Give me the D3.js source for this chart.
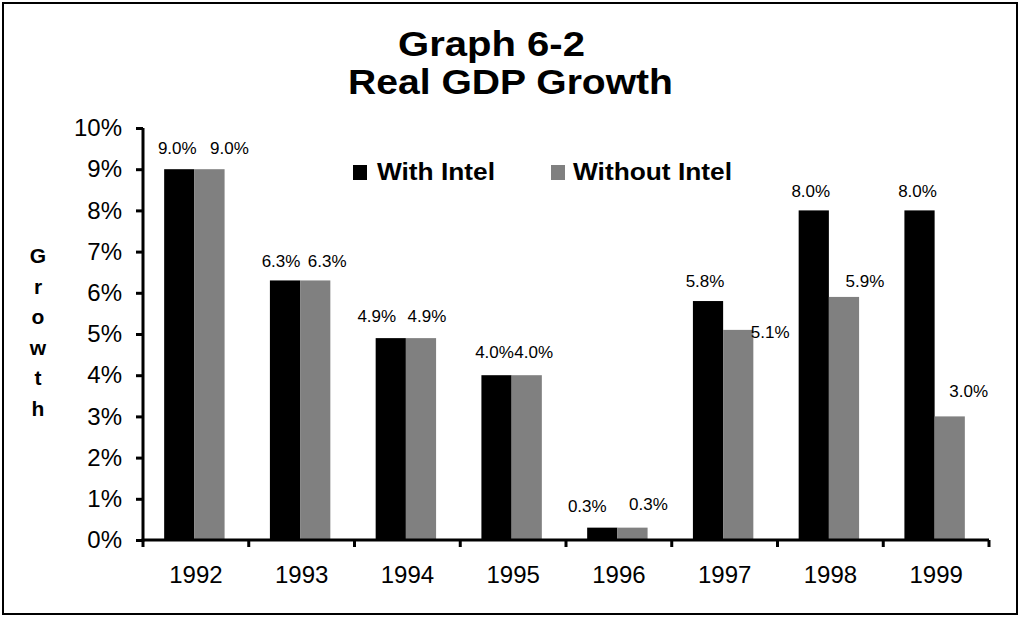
<!DOCTYPE html>
<html>
<head>
<meta charset="utf-8">
<script src="https://cdn.jsdelivr.net/npm/d3@7"></script>
<style>
  body { margin: 0; background: #fff; }
  text { font-family: "Liberation Sans", Arial, sans-serif; fill: #000; }
</style>
</head>
<body>
<svg id="chart" width="1020" height="618"></svg>
<script>
// ---- data ----
const years = ["1992", "1993", "1994", "1995", "1996", "1997", "1998", "1999"];
const withIntel = [9.0, 6.3, 4.9, 4.0, 0.3, 5.8, 8.0, 8.0];
const withoutIntel = [9.0, 6.3, 4.9, 4.0, 0.3, 5.1, 5.9, 3.0];
const seriesNames = ["With Intel", "Without Intel"];
const yTicks = [0, 1, 2, 3, 4, 5, 6, 7, 8, 9, 10];
const titleLines = ["Graph 6-2", "Real GDP Growth"];
const yAxisLabel = "Growth";

// ---- layout (label nudges as placed in the original) ----
const nudgeDxWith = [-2, -4, -14, -2, -15, -3, -3, -2];
const nudgeDyWith = [-1, 1, -2, -3, -2, 0, 1, 1];
const nudgeDxWithout = [20, 12, 6, 7, 16, 32, 21, 19];
const nudgeDyWithout = [-1, 1, -2, -3, -4, 22, 4, -5];

const colors = ["#000000", "#808080"];
const svg = d3.select("#chart");
const W = 1020, H = 618;
const plot = { left: 143, right: 989, top: 128, bottom: 540 };

svg.append("rect").attr("width", W).attr("height", H).attr("fill", "#fff");
svg.append("rect").attr("x", 3).attr("y", 3).attr("width", 1014).attr("height", 611)
  .attr("fill", "none").attr("stroke", "#000").attr("stroke-width", 2);

const x = d3.scaleBand().domain(years).range([plot.left, plot.right]).paddingInner(0).paddingOuter(0);
const bw = x.bandwidth() / 3.5;
const xs = d3.scaleBand().domain([0, 1]).range([0, 2 * bw]);
const y = d3.scaleLinear().domain([0, 10]).range([plot.bottom, plot.top]);

const series = [withIntel, withoutIntel];
const nudges = [[nudgeDxWith, nudgeDyWith], [nudgeDxWithout, nudgeDyWithout]];
const groupOffset = (x.bandwidth() - 2 * bw) / 2 - 1.5;

series.forEach((vals, si) => {
  const g = svg.append("g");
  g.selectAll("rect").data(vals).join("rect")
    .attr("x", (d, i) => x(years[i]) + groupOffset + xs(si))
    .attr("y", d => y(d))
    .attr("width", xs.bandwidth())
    .attr("height", d => y(0) - y(d))
    .attr("fill", colors[si]);
  g.selectAll("text").data(vals).join("text")
    .attr("x", (d, i) => x(years[i]) + groupOffset + xs(si) + xs.bandwidth() / 2 + nudges[si][0][i])
    .attr("y", (d, i) => y(d) - 14 + nudges[si][1][i])
    .attr("text-anchor", "middle")
    .attr("font-size", 17)
    .text(d => d.toFixed(1) + "%");
});

// y axis
const yAxis = d3.axisLeft(y).tickValues(yTicks).tickFormat(d => d + "%").tickSize(7).tickPadding(14);
const gy = svg.append("g").attr("transform", `translate(${plot.left},0)`).call(yAxis);
gy.select(".domain").attr("stroke", "#000").attr("stroke-width", 3).attr("d", `M0,${plot.top}V${plot.bottom + 1.5}`);
gy.selectAll(".tick line").attr("stroke", "#000").attr("stroke-width", 3);
gy.selectAll(".tick text").attr("font-size", 24).attr("fill", "#000")
  .style("font-family", '"Liberation Sans", Arial, sans-serif');

// x axis
const xAxis = d3.axisBottom(x).tickSize(0).tickPadding(26);
const gx = svg.append("g").attr("transform", `translate(0,${plot.bottom})`).call(xAxis);
gx.select(".domain").attr("stroke", "#000").attr("stroke-width", 3).attr("d", `M${plot.left - 1.5},0H${plot.right}`);
gx.selectAll(".tick text").attr("font-size", 24).attr("fill", "#000")
  .style("font-family", '"Liberation Sans", Arial, sans-serif');
const bounds = years.map(yv => x(yv)).concat([plot.right]);
gx.selectAll(".bound").data(bounds).join("line").attr("class", "bound")
  .attr("x1", d => d).attr("x2", d => d).attr("y1", 0).attr("y2", 7)
  .attr("stroke", "#000").attr("stroke-width", 3);

// title
const titleX = [491.5, 510.5], titleY = [56, 94], titleLen = [187, 325];
titleLines.forEach((t, i) => {
  svg.append("text").attr("x", titleX[i]).attr("y", titleY[i])
    .attr("text-anchor", "middle").attr("font-size", 35).attr("font-weight", "bold")
    .attr("textLength", titleLen[i]).attr("lengthAdjust", "spacingAndGlyphs")
    .text(t);
});

// legend
const legX = [353, 551], legTextX = [377, 573], legLen = [118, 159];
seriesNames.forEach((n, i) => {
  svg.append("rect").attr("x", legX[i]).attr("y", 165).attr("width", 14).attr("height", 15)
    .attr("fill", colors[i]);
  svg.append("text").attr("x", legTextX[i]).attr("y", 180)
    .attr("font-size", 23).attr("font-weight", "bold")
    .attr("textLength", legLen[i]).attr("lengthAdjust", "spacingAndGlyphs")
    .text(n);
});

// vertical y-axis label (stacked letters)
yAxisLabel.split("").forEach((ch, i) => {
  svg.append("text").attr("x", 38).attr("y", 263 + i * 30.6)
    .attr("text-anchor", "middle").attr("font-size", 21).attr("font-weight", "bold")
    .text(ch);
});
</script>
</body>
</html>
